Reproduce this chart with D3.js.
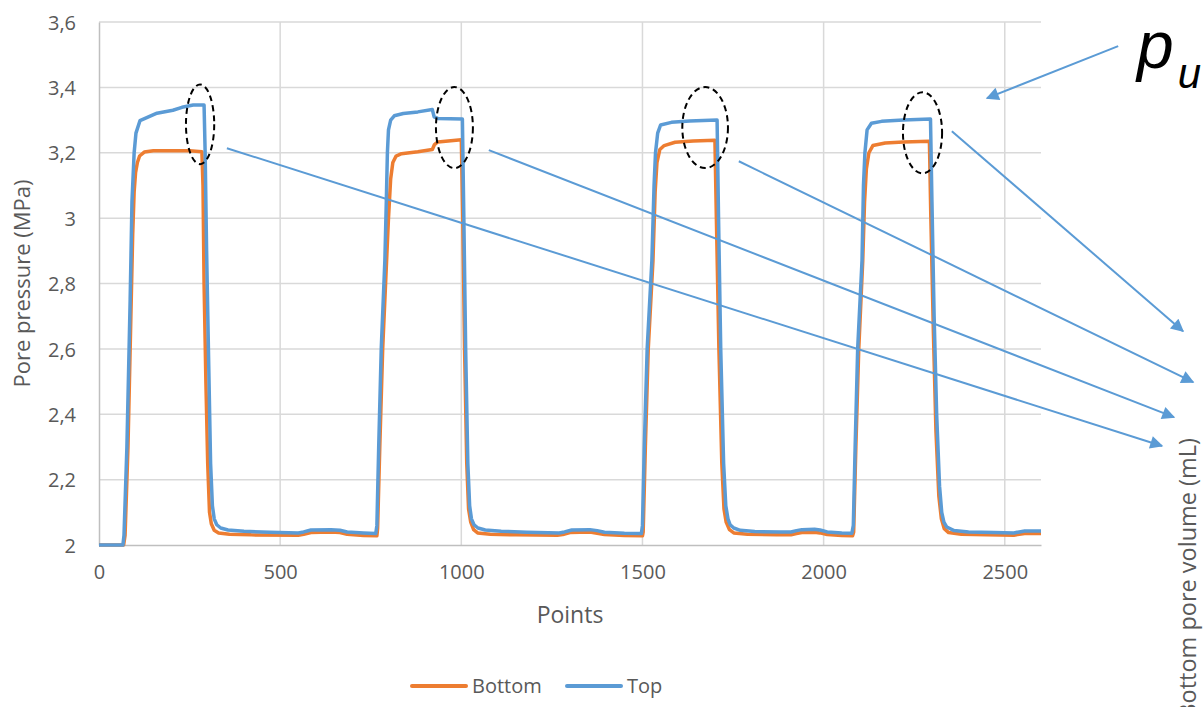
<!DOCTYPE html>
<html>
<head>
<meta charset="utf-8">
<script src="https://cdn.jsdelivr.net/npm/d3@7/dist/d3.min.js"></script>
<style>
  body { margin: 0; background: #fff; }
  text { font-family: "Open Sans", sans-serif; fill: #595959; }
</style>
</head>
<body>
<script>

// ---- data ----
var yTicks = [2, 2.2, 2.4, 2.6, 2.8, 3, 3.2, 3.4, 3.6];
var xTicks = [0, 500, 1000, 1500, 2000, 2500];
var seriesNames = ['Bottom', 'Top'];

var bottomPoints = [
  [0,2.000],[68,2.000],[72,2.03],[80,2.3],[88,2.7],[93,2.95],[97,3.08],[101,3.14],[106,3.17],[112,3.19],
  [125,3.202],[150,3.206],[250,3.206],[284,3.203],
  [287,3.1],[290,2.8],[295,2.5],[300,2.25],[305,2.1],[310,2.065],[318,2.045],[330,2.037],[360,2.033],
  [420,2.031],[550,2.030],[565,2.033],[585,2.038],[640,2.040],[665,2.038],[685,2.033],[730,2.029],[767,2.028],
  [769,2.05],[775,2.3],[783,2.6],[793,2.85],[799,3.0],[805,3.12],[811,3.17],[820,3.19],[835,3.197],
  [880,3.203],[920,3.210],[926,3.225],[935,3.233],[1000,3.240],
  [1004,3.0],[1009,2.6],[1015,2.25],[1020,2.11],[1026,2.07],[1034,2.047],[1045,2.037],[1080,2.033],
  [1150,2.031],[1265,2.030],[1280,2.032],[1300,2.038],[1355,2.040],[1375,2.036],[1395,2.032],[1450,2.029],[1500,2.028],
  [1502,2.04],[1508,2.3],[1516,2.6],[1529,2.87],[1535,3.08],[1540,3.17],[1548,3.21],[1560,3.222],
  [1590,3.232],[1640,3.236],[1700,3.238],
  [1704,3.0],[1711,2.6],[1719,2.25],[1725,2.11],[1731,2.07],[1740,2.047],[1752,2.037],[1790,2.033],
  [1870,2.031],[1910,2.031],[1925,2.035],[1940,2.038],[1975,2.039],[1990,2.037],[2010,2.032],[2050,2.029],[2080,2.028],
  [2083,2.04],[2089,2.3],[2097,2.6],[2108,2.87],[2113,3.05],[2118,3.15],[2125,3.2],[2136,3.222],
  [2170,3.23],[2220,3.233],[2292,3.235],
  [2296,3.0],[2303,2.65],[2310,2.35],[2318,2.15],[2325,2.08],[2333,2.05],[2345,2.038],[2380,2.033],
  [2450,2.031],[2525,2.030],[2540,2.033],[2555,2.035],[2600,2.035]
];

var topPoints = [
  [0,2.000],[66,2.000],[69,2.03],[77,2.3],[86,2.75],[91,3.05],[97,3.2],[102,3.26],[113,3.298],
  [160,3.321],[204,3.330],[229,3.339],[260,3.346],[290,3.346],
  [293,3.2],[297,2.9],[302,2.6],[308,2.25],[313,2.12],[318,2.08],[325,2.062],[336,2.052],[356,2.046],
  [400,2.042],[470,2.039],[550,2.037],[565,2.040],[585,2.046],[640,2.047],[665,2.045],[685,2.040],[730,2.037],[764,2.035],
  [767,2.06],[772,2.3],[779,2.6],[789,2.87],[793,3.05],[796,3.2],[799,3.27],[805,3.30],[815,3.313],
  [840,3.320],[880,3.325],[920,3.332],[925,3.31],[935,3.305],[1003,3.303],
  [1007,3.0],[1012,2.6],[1018,2.25],[1023,2.12],[1028,2.08],[1035,2.062],[1046,2.052],[1066,2.046],
  [1110,2.042],[1180,2.039],[1270,2.037],[1285,2.040],[1305,2.046],[1355,2.047],[1375,2.044],[1395,2.039],[1450,2.036],[1497,2.035],
  [1500,2.06],[1505,2.3],[1513,2.6],[1526,2.87],[1532,3.1],[1536,3.2],[1542,3.26],[1550,3.285],
  [1580,3.293],[1630,3.297],[1706,3.300],
  [1710,3.0],[1716,2.6],[1724,2.25],[1730,2.12],[1736,2.08],[1742,2.062],[1752,2.052],[1770,2.045],
  [1810,2.041],[1880,2.040],[1910,2.040],[1925,2.044],[1940,2.047],[1975,2.048],[1990,2.046],[2010,2.040],[2050,2.037],[2078,2.036],
  [2082,2.06],[2087,2.3],[2094,2.6],[2106,2.87],[2110,3.1],[2114,3.2],[2120,3.27],[2132,3.29],
  [2160,3.296],[2220,3.300],[2295,3.303],
  [2299,3.05],[2305,2.7],[2312,2.4],[2320,2.18],[2326,2.1],[2332,2.07],[2340,2.055],[2360,2.044],
  [2400,2.040],[2470,2.038],[2525,2.037],[2540,2.040],[2555,2.043],[2600,2.043]
];

// annotation ellipses: centre x, centre y, half width (points), half height (MPa)
var ellipseCx = [279, 981, 1673, 2273];
var ellipseCy = [3.287, 3.277, 3.277, 3.261];
var ellipseRx = [39, 51, 63, 54];
var ellipseRy = [0.122, 0.124, 0.124, 0.124];

// annotation arrows: from [x, y] to [x, y], in data units
var arrowFrom = [[353,3.214],[1076,3.208],[1766,3.174],[2354,3.266],[2813,3.526]];
var arrowTo   = [[2934,2.303],[2967,2.391],[3020,2.498],[2992,2.654],[2451,3.367]];

// ---- layout ----
var margin = {top: 22, right: 162, bottom: 162, left: 99};
var w = 1203 - margin.left - margin.right;
var h = 707 - margin.top - margin.bottom;

var orange = '#ed7d31';
var blue = '#5b9bd5';

var svg = d3.select('body').append('svg')
            .attr('width', 1203)
            .attr('height', 707);

var defs = svg.append('defs');
defs.append('marker')
    .attr('id', 'arrow')
    .attr('viewBox', '0 0 10 10')
    .attr('refX', 9).attr('refY', 5)
    .attr('markerUnits', 'userSpaceOnUse')
    .attr('markerWidth', 17).attr('markerHeight', 13)
    .attr('orient', 'auto')
  .append('path')
    .attr('d', 'M0,0 L10,5 L0,10 Z')
    .attr('fill', blue);

var xScale = d3.scaleLinear().domain([0, 2600]).range([0, w]);
var yScale = d3.scaleLinear().domain([2, 3.6]).range([h, 0]);

var focus = svg.append('g')
            .attr('transform', 'translate(' + margin.left + ',' + margin.top + ')');

// gridlines
focus.selectAll('.hgrid')
     .data(yTicks.slice(1))
     .enter().append('line')
     .attr('x1', 0).attr('x2', w)
     .attr('y1', function(d) { return yScale(d); })
     .attr('y2', function(d) { return yScale(d); })
     .attr('stroke', '#d9d9d9').attr('stroke-width', 1.5);

focus.selectAll('.vgrid')
     .data(xTicks.slice(1))
     .enter().append('line')
     .attr('x1', function(d) { return xScale(d); })
     .attr('x2', function(d) { return xScale(d); })
     .attr('y1', 0).attr('y2', h)
     .attr('stroke', '#d9d9d9').attr('stroke-width', 1.5);

// axes
var xAxis = d3.axisBottom(xScale).tickValues(xTicks).tickSize(0).tickPadding(20)
              .tickFormat(d3.format('d'));
var yAxis = d3.axisLeft(yScale).tickValues(yTicks).tickSize(0).tickPadding(23)
              .tickFormat(function(d) { return String(+d.toFixed(1)).replace('.', ','); });

var gx = focus.append('g').attr('class', 'axis axis--x')
     .attr('transform', 'translate(0,' + h + ')')
     .call(xAxis);
var gy = focus.append('g').attr('class', 'axis axis--y')
     .call(yAxis);

[gx, gy].forEach(function(g) {
  g.select('.domain').attr('stroke', '#bfbfbf').attr('stroke-width', 1.5);
  g.selectAll('text')
   .style('font-family', '"Open Sans", sans-serif')
   .style('font-size', '20px')
   .attr('fill', '#595959');
});
gy.selectAll('text').attr('dy', '0.36em');

// series
var line = d3.line()
             .x(function(d) { return xScale(d[0]); })
             .y(function(d) { return yScale(d[1]); });

focus.append('path')
     .datum(bottomPoints)
     .attr('fill', 'none')
     .attr('stroke', orange)
     .attr('stroke-width', 3.5)
     .attr('stroke-linejoin', 'round')
     .attr('d', line);

focus.append('path')
     .datum(topPoints)
     .attr('fill', 'none')
     .attr('stroke', blue)
     .attr('stroke-width', 3.5)
     .attr('stroke-linejoin', 'round')
     .attr('d', line);

// dashed ellipses
focus.selectAll('.ring')
     .data(ellipseCx)
     .enter().append('ellipse')
     .attr('cx', function(d) { return xScale(d); })
     .attr('cy', function(d, i) { return yScale(ellipseCy[i]); })
     .attr('rx', function(d, i) { return xScale(d + ellipseRx[i]) - xScale(d); })
     .attr('ry', function(d, i) { return yScale(ellipseCy[i]) - yScale(ellipseCy[i] + ellipseRy[i]); })
     .attr('fill', 'none')
     .attr('stroke', '#000')
     .attr('stroke-width', 2)
     .attr('stroke-dasharray', '6,4');

// arrows
focus.selectAll('.arrow')
     .data(arrowFrom)
     .enter().append('line')
     .attr('x1', function(d) { return xScale(d[0]); })
     .attr('y1', function(d) { return yScale(d[1]); })
     .attr('x2', function(d, i) { return xScale(arrowTo[i][0]); })
     .attr('y2', function(d, i) { return yScale(arrowTo[i][1]); })
     .attr('stroke', blue)
     .attr('stroke-width', 2)
     .attr('marker-end', 'url(#arrow)');

// titles
focus.append('text')
   .attr('text-anchor', 'middle')
   .attr('transform', 'translate(' + (22 - margin.left) + ',' + (h / 2) + ')rotate(-90)')
   .attr('dy', '0.35em')
   .style('font-size', '22px')
   .text('Pore pressure (MPa)');

focus.append('text')
   .attr('text-anchor', 'middle')
   .attr('x', w / 2)
   .attr('y', h + 78)
   .style('font-size', '23px')
   .text('Points');

// right axis title (clipped at the page edge)
svg.append('text')
   .attr('text-anchor', 'end')
   .attr('transform', 'translate(1196,438)rotate(-90)')
   .style('font-size', '23.5px')
   .text('Bottom pore volume (mL)');

// p_u label
var pu = svg.append('text')
   .attr('x', 1137)
   .attr('y', 68)
   .style('font-family', '"Liberation Sans", sans-serif')
   .style('font-style', 'italic')
   .style('font-size', '66px')
   .style('fill', '#000');
pu.append('tspan').text('p');
pu.append('tspan').attr('dy', 20).attr('dx', 4).style('font-size', '42px').text('u');

// legend
var legend = svg.append('g').attr('transform', 'translate(412,686)');
var legendColors = [orange, blue];
var legendX = [0, 155];
legend.selectAll('.lg')
      .data(seriesNames)
      .enter().append('line')
      .attr('x1', function(d, i) { return legendX[i]; })
      .attr('x2', function(d, i) { return legendX[i] + 54; })
      .attr('y1', 0).attr('y2', 0)
      .attr('stroke', function(d, i) { return legendColors[i]; })
      .attr('stroke-width', 4)
      .attr('stroke-linecap', 'round');
legend.selectAll('.lt')
      .data(seriesNames)
      .enter().append('text')
      .attr('x', function(d, i) { return legendX[i] + 60; })
      .attr('y', 0)
      .attr('dy', '0.35em')
      .style('font-size', '20px')
      .text(function(d) { return d; });

</script>
</body>
</html>
